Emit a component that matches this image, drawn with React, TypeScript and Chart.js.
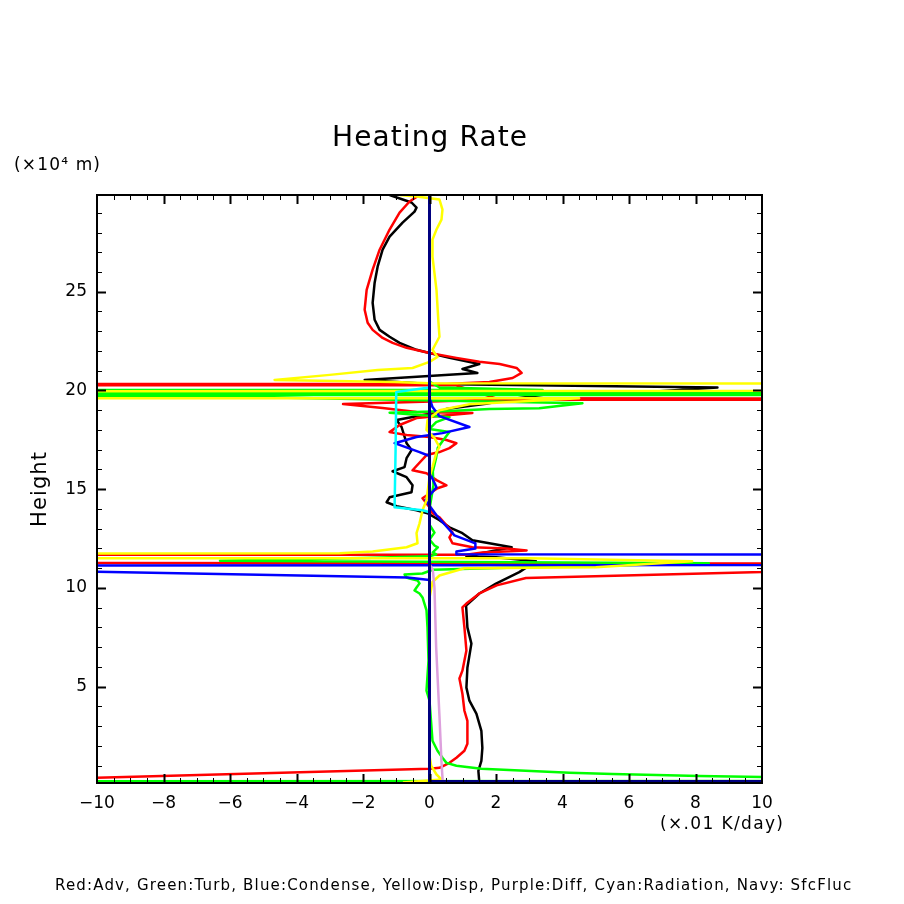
import React, { useEffect, useRef } from "react";
import { Chart, registerables } from "chart.js";

Chart.register(...registerables);

const FONT = "'DejaVu Sans', 'Liberation Sans', sans-serif";

// axis ranges and tick spacing
const X_MIN = -10;
const X_MAX = 10;
const X_STEP = 2;
const X_MINOR = 0.5;
const Y_MIN = 0.12;
const Y_MAX = 29.9;
const Y_STEP = 5;
const Y_MINOR = 1;

// texts
const chartTitle = "Heating Rate";
const yUnit = "(×10⁴ m)";
const yTitle = "Height";
const xUnit = "(×.01 K/day)";
const footer =
  "Red:Adv, Green:Turb, Blue:Condense, Yellow:Disp, Purple:Diff, Cyan:Radiation, Navy: SfcFluc";

// profiles: [heating rate (x.01 K/day), height (x10^4 m)]
const totalProfile: number[][] = [
  [-1.2, 29.9], [-0.54, 29.52], [-0.39, 29.26], [-0.45, 29.06], [-0.81, 28.5], [-1.2, 27.79],
  [-1.41, 27.13], [-1.56, 26.27], [-1.65, 25.46], [-1.71, 24.44], [-1.65, 23.58], [-1.5, 23.07],
  [-1.2, 22.72], [-0.9, 22.41], [-0.39, 22.06], [0, 21.9], [0.6, 21.65], [1.5, 21.34],
  [0.99, 21.09], [1.44, 20.89], [-1.95, 20.53], [0, 20.33], [8.66, 20.15], [6.8, 19.95],
  [3.6, 19.82], [2.6, 19.6], [1.7, 19.33], [0.5, 19.06], [0.3, 18.91], [-0.99, 18.5],
  [-0.84, 18.15], [-0.69, 17.33], [-0.54, 16.98], [-0.69, 16.57], [-0.75, 16.12], [-1.11, 15.91],
  [-0.69, 15.61], [-0.51, 15.2], [-0.54, 14.85], [-1.2, 14.59], [-1.29, 14.34], [-0.99, 14.14],
  [-0.39, 13.93], [-0.06, 13.78], [0.3, 13.43], [0.6, 13.07], [0.99, 12.77], [1.29, 12.41],
  [1.8, 12.26], [2.47, 12.06], [1.11, 11.6], [2.0, 11.55], [3.2, 11.35], [2.7, 10.8],
  [2.0, 10.22], [1.5, 9.72], [1.1, 9.11], [1.14, 8.0], [1.26, 7.18], [1.14, 5.96],
  [1.11, 4.95], [1.2, 4.29], [1.41, 3.63], [1.56, 2.76], [1.59, 1.9], [1.56, 1.24],
  [1.47, 0.73], [1.5, 0.12],
];

const advProfile: number[][] = [
  [-0.3, 29.9], [-0.6, 29.57], [-0.9, 29.01], [-1.2, 28.15], [-1.5, 27.13], [-1.71, 26.12],
  [-1.89, 25.1], [-1.95, 24.09], [-1.86, 23.43], [-1.71, 23.07], [-1.41, 22.66], [-1.11, 22.41],
  [-0.69, 22.16], [0, 21.9], [0.81, 21.65], [1.5, 21.45], [2.11, 21.34], [2.62, 21.14],
  [2.77, 20.89], [2.5, 20.63], [1.8, 20.43], [0.5, 20.33], [-300, 20.3], [0.8, 20.26],
  [2.0, 19.6], [300, 19.57], [1.9, 19.53], [-2.6, 19.31], [-1.41, 19.11], [-0.39, 18.91],
  [1.29, 18.86], [-0.39, 18.6], [-0.9, 18.25], [-1.2, 17.89], [-0.69, 17.74], [0, 17.64],
  [0.51, 17.49], [0.81, 17.33], [0.6, 17.08], [0.3, 16.88], [-0.09, 16.73], [-0.51, 15.96],
  [-0.09, 15.81], [0.21, 15.46], [0.51, 15.2], [0.24, 15.05], [-0.21, 14.54], [0, 14.09],
  [0.09, 13.78], [0.3, 13.58], [0.51, 13.17], [0.69, 12.82], [0.6, 12.56], [0.69, 12.26],
  [1.29, 12.06], [2.32, 12.0], [2.92, 11.9], [1.59, 11.8], [1.1, 11.68], [-300, 11.62],
  [20, 11.23], [2.9, 10.5], [2.02, 10.13], [1.5, 9.72], [1.11, 9.21], [0.99, 9.01],
  [1.05, 8.0], [1.11, 6.83], [0.99, 5.81], [0.9, 5.41], [0.99, 4.64], [1.05, 3.78],
  [1.14, 3.27], [1.14, 2.11], [1.05, 1.75], [0.81, 1.4], [0.6, 1.14], [0.3, 0.89],
  [0, 0.84], [-15, 0.15],
];

const turbProfile: number[][] = [
  [0, 29.9], [0, 20.45], [0.3, 20.15], [3.4, 20.03], [-300, 19.9], [300, 19.84],
  [-300, 19.7], [-5.5, 19.67], [4.6, 19.35], [3.3, 19.1], [1.8, 19.06], [0.6, 18.96],
  [-1.2, 18.87], [0.6, 18.65], [0.2, 18.4], [0, 18.05], [0.6, 17.9], [0.4, 17.45],
  [0.25, 17.1], [0.2, 16.6], [0.1, 15.9], [0.12, 15.2], [0.06, 14.6], [0, 14.0],
  [0, 13.2], [0.15, 12.8], [0, 12.45], [0.15, 12.15], [0.25, 12.05], [0.1, 11.8],
  [0.2, 11.7], [0, 11.6], [-2.0, 11.52], [-6.3, 11.38], [8.4, 11.25], [2.9, 11.05],
  [0.1, 10.92], [-0.21, 10.73], [-0.75, 10.68], [-0.69, 10.53], [-0.6, 10.48], [-0.36, 10.38],
  [-0.3, 10.23], [-0.39, 10.02], [-0.45, 9.87], [-0.3, 9.72], [-0.21, 9.52], [-0.09, 8.86],
  [-0.06, 8.0], [-0.03, 6.32], [-0.09, 4.8], [0, 4.29], [0.09, 2.26], [0.24, 1.75],
  [0.39, 1.4], [0.51, 1.14], [0.81, 0.99], [1.56, 0.84], [2.89, 0.74], [4.21, 0.64],
  [5.5, 0.58], [6.83, 0.53], [8.12, 0.48], [10, 0.43], [14, 0.36], [300, 0.26],
  [-300, 0.17], [-0.1, 0.17],
];

const condenseProfile: number[][] = [
  [0, 29.9], [0, 19.62], [0.09, 19.16], [0.3, 18.7], [1.2, 18.15], [0.39, 17.84],
  [-0.39, 17.64], [-1.05, 17.33], [-0.3, 16.88], [0, 16.68], [0, 15.86], [0.21, 15.1],
  [-0.12, 14.44], [0.21, 13.68], [0.75, 12.66], [1.38, 12.26], [1.38, 12.0], [0.81, 11.85],
  [0.81, 11.7], [300, 11.62], [-20, 11.12], [-0.66, 10.53], [0, 10.4], [0, 0.12],
];

const dispProfile: number[][] = [
  [-0.9, 29.9], [-0.39, 29.82], [0.3, 29.67], [0.39, 29.16], [0.36, 28.65], [0.21, 28.15],
  [0.09, 27.64], [0.09, 26.78], [0.21, 25.1], [0.27, 23.43], [0.3, 22.72], [0.09, 22.06],
  [0.24, 21.7], [0, 21.45], [-0.51, 21.14], [-1.56, 21.04], [-3.0, 20.79], [-4.66, 20.53],
  [-1.05, 20.43], [0, 20.36], [300, 20.3], [-300, 19.64], [4.5, 19.6], [1.2, 19.3],
  [0.3, 19.0], [-0.06, 18.5], [-0.09, 18.0], [0.15, 17.59], [0.3, 17.13], [0.21, 16.88],
  [0.09, 16.12], [0, 15.61], [-0.09, 14.44], [-0.21, 13.93], [-0.3, 13.27], [-0.39, 12.77],
  [-0.36, 12.26], [-0.69, 12.06], [-1.71, 11.85], [-2.7, 11.75], [-300, 11.7], [3.0, 11.5],
  [7.9, 11.35], [5.0, 11.05], [1.05, 11.0], [0.3, 10.63], [0.09, 10.3], [0, 9.5],
  [0, 1.5], [0.05, 1.0], [0.21, 0.55], [0.36, 0.3], [-0.8, 0.14],
];

const diffProfile: number[][] = [
  [0, 29.9], [0, 11.2], [0.1, 10.9], [0.15, 10.0], [0.2, 7.0], [0.3, 3.5],
  [0.36, 1.2], [0.4, 0.12],
];

const radiationProfile: number[][] = [
  [0, 29.9], [0, 20.15], [-1.0, 19.92], [-1.02, 17.0], [-1.05, 14.08], [-0.21, 13.93],
  [0, 13.83], [0, 0.12],
];

const sfcFlucProfile: number[][] = [
  [0, 29.9], [0, 0.2], [400, 0.13],
];

const series = [
  { label: "SfcFluc", profile: sfcFlucProfile, color: "#000080", width: 3 },
  { label: "Radiation", profile: radiationProfile, color: "#00ffff", width: 2.5 },
  { label: "Diff", profile: diffProfile, color: "#dda0dd", width: 2.5 },
  { label: "Disp", profile: dispProfile, color: "#ffff00", width: 2.5 },
  { label: "Condense", profile: condenseProfile, color: "#0000ff", width: 2.5 },
  { label: "Turb", profile: turbProfile, color: "#00ff00", width: 2.5 },
  { label: "Adv", profile: advProfile, color: "#ff0000", width: 2.5 },
  { label: "Total", profile: totalProfile, color: "#000000", width: 2.5 },
];

function formatTick(v: number): string {
  return v < 0 ? "\u2212" + String(Math.abs(v)) : String(v);
}

function drawFitted(
  ctx: CanvasRenderingContext2D,
  text: string,
  left: number,
  right: number,
  cy: number,
  size: number
) {
  ctx.font = `${size}px ${FONT}`;
  (ctx as any).letterSpacing = "0px";
  const w0 = ctx.measureText(text).width;
  const ls = (right - left - w0) / Math.max(1, text.length - 1);
  (ctx as any).letterSpacing = `${ls}px`;
  ctx.textAlign = "left";
  ctx.textBaseline = "middle";
  ctx.fillStyle = "#000";
  ctx.fillText(text, left, cy);
  (ctx as any).letterSpacing = "0px";
}

const framePlugin = {
  id: "frameTicks",
  afterDatasetsDraw(chart: any) {
    const { ctx, chartArea: a, scales } = chart;
    const xs = scales.x;
    const ys = scales.y;
    ctx.save();
    ctx.strokeStyle = "#000";
    // minor and major ticks, pointing inward, on all four sides
    const drawSet = (major: boolean) => {
      ctx.beginPath();
      ctx.lineWidth = major ? 2 : 1;
      const len = major ? 9 : 5;
      for (let v = X_MIN + X_MINOR; v < X_MAX - 1e-6; v += X_MINOR) {
        const isMajor = Math.abs(v / X_STEP - Math.round(v / X_STEP)) < 1e-6;
        if (isMajor !== major) continue;
        const px = Math.round(xs.getPixelForValue(v)) + 0.5;
        ctx.moveTo(px, a.bottom);
        ctx.lineTo(px, a.bottom - len);
        ctx.moveTo(px, a.top);
        ctx.lineTo(px, a.top + len);
      }
      for (let v = Math.ceil(Y_MIN); v <= Math.floor(Y_MAX); v += Y_MINOR) {
        const isMajor = v % Y_STEP === 0;
        if (isMajor !== major) continue;
        const py = Math.round(ys.getPixelForValue(v)) + 0.5;
        ctx.moveTo(a.left, py);
        ctx.lineTo(a.left + len, py);
        ctx.moveTo(a.right, py);
        ctx.lineTo(a.right - len, py);
      }
      ctx.stroke();
    };
    drawSet(false);
    drawSet(true);
    ctx.lineWidth = 2;
    ctx.strokeRect(a.left, a.top, a.right - a.left, a.bottom - a.top);
    ctx.restore();
  },
};

const textPlugin = {
  id: "gradsTexts",
  afterDraw(chart: any) {
    const ctx: CanvasRenderingContext2D = chart.ctx;
    ctx.save();
    drawFitted(ctx, chartTitle, 332, 527, 139, 28);
    drawFitted(ctx, yUnit, 14, 100, 166, 17);
    drawFitted(ctx, xUnit, 660, 783, 825, 17);
    drawFitted(ctx, footer, 55, 851, 886, 15);
    ctx.translate(41, 490);
    ctx.rotate(-Math.PI / 2);
    drawFitted(ctx, yTitle, -37, 38, 0, 21);
    ctx.restore();
  },
};

export default function App() {
  const ref = useRef<HTMLCanvasElement>(null);

  useEffect(() => {
    document.body.style.margin = "0";
    const canvas = ref.current;
    if (!canvas) return;
    const datasets = series.map((s, i) => ({
      label: s.label,
      data: s.profile.map(([x, y]) => ({ x, y })),
      borderColor: s.color,
      backgroundColor: s.color,
      borderWidth: s.width,
      showLine: true,
      pointRadius: 0,
      pointHoverRadius: 0,
      tension: 0,
      fill: false,
      clip: 0,
      order: i,
      borderJoinStyle: "round" as const,
    }));
    const chart = new Chart(canvas, {
      type: "scatter",
      data: { datasets },
      options: {
        animation: false,
        responsive: false,
        events: [],
        layout: { padding: { left: 0, top: 195, right: 142, bottom: 0 } },
        plugins: {
          legend: { display: false },
          tooltip: { enabled: false },
          title: { display: false },
        },
        scales: {
          x: {
            type: "linear",
            min: X_MIN,
            max: X_MAX,
            grid: { display: false, drawTicks: false },
            border: { display: false },
            ticks: {
              stepSize: X_STEP,
              autoSkip: false,
              maxRotation: 0,
              padding: 10,
              color: "#000",
              font: { family: FONT, size: 17 },
              callback: (v: any) => formatTick(Number(v)),
            },
            afterFit: (s: any) => {
              s.height = 904 - 783;
            },
          },
          y: {
            type: "linear",
            min: Y_MIN,
            max: Y_MAX,
            grid: { display: false, drawTicks: false },
            border: { display: false },
            ticks: {
              stepSize: Y_STEP,
              includeBounds: false,
              autoSkip: false,
              padding: 10,
              color: "#000",
              font: { family: FONT, size: 17 },
              callback: (v: any) => formatTick(Number(v)),
            },
            afterFit: (s: any) => {
              s.width = 97;
            },
          },
        },
      },
      plugins: [framePlugin, textPlugin],
    });
    return () => chart.destroy();
  }, []);

  return (
    <canvas
      ref={ref}
      width={904}
      height={904}
      style={{ display: "block", width: 904, height: 904 }}
    />
  );
}
